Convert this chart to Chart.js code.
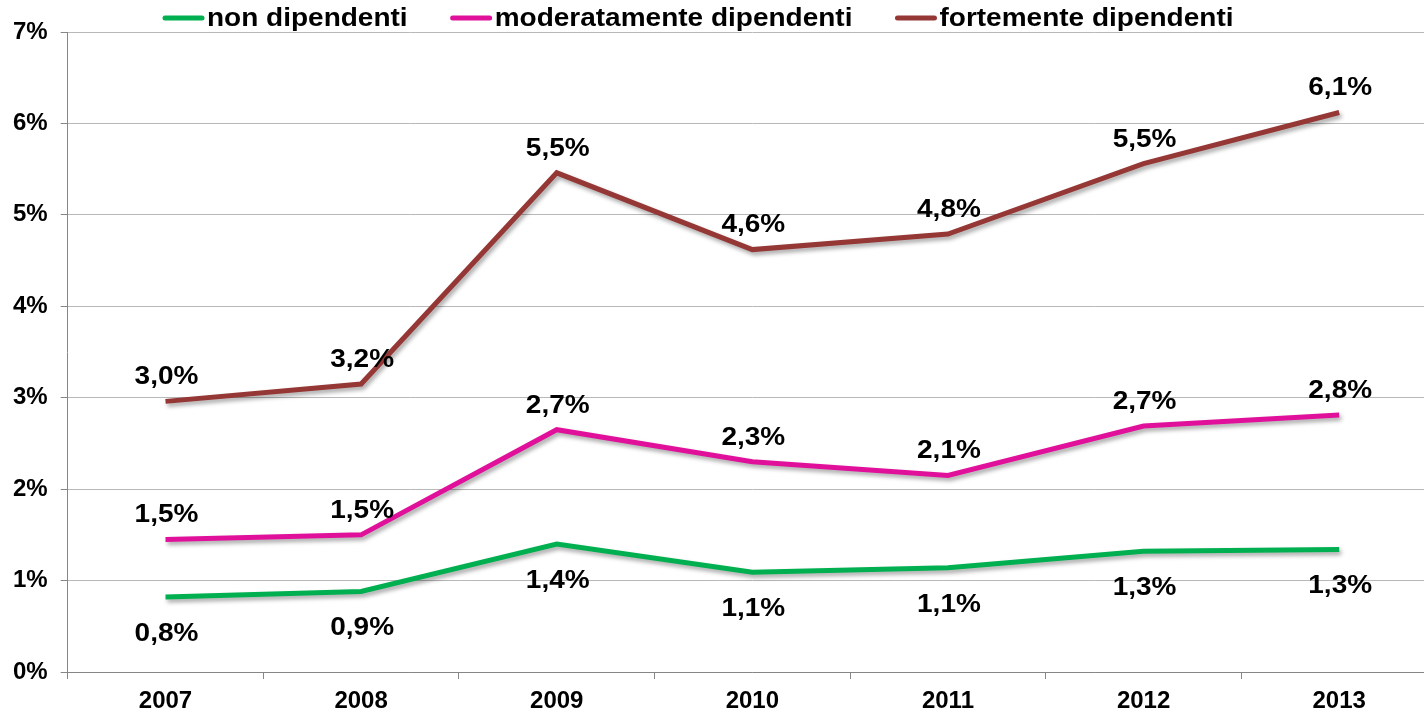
<!DOCTYPE html>
<html>
<head>
<meta charset="utf-8">
<script src="https://cdn.jsdelivr.net/npm/chart.js@4/dist/chart.umd.min.js"></script>
<style>
  html, body { margin: 0; padding: 0; background: #fff; overflow: hidden; }
  #wrap { width: 1440px; height: 725px; }
</style>
</head>
<body>
<div id="wrap"><canvas id="chart"></canvas></div>
<script>
/* ================= DATA ================= */
const years = ["2007", "2008", "2009", "2010", "2011", "2012", "2013"];

const nonDip = [0.82, 0.88, 1.40, 1.09, 1.14, 1.32, 1.34];
const modDip = [1.45, 1.50, 2.65, 2.30, 2.15, 2.69, 2.81];
const forteDip = [2.96, 3.15, 5.46, 4.62, 4.79, 5.56, 6.12];

const nonLabels = ["0,8%", "0,9%", "1,4%", "1,1%", "1,1%", "1,3%", "1,3%"];
const modLabels = ["1,5%", "1,5%", "2,7%", "2,3%", "2,1%", "2,7%", "2,8%"];
const forteLabels = ["3,0%", "3,2%", "5,5%", "4,6%", "4,8%", "5,5%", "6,1%"];

const seriesNames = ["non dipendenti", "moderatamente dipendenti", "fortemente dipendenti"];
const yTicks = [0, 1, 2, 3, 4, 5, 6, 7];

/* ================= STYLE ================= */
const FONT = "'Liberation Sans', Arial, sans-serif";
const colors = ["#00B050", "#E0109B", "#953735"];
const STRETCH = 1.12; // original text is a bit wider than plain Arial

/* ================= PLUGINS ================= */
// soft drop shadow under each line
const shadowPlugin = {
  id: "shadow",
  beforeDatasetDraw(chart) {
    const c = chart.ctx;
    c.save();
    c.shadowColor = "rgba(0,0,0,0.35)";
    c.shadowBlur = 4;
    c.shadowOffsetX = 2;
    c.shadowOffsetY = 3;
  },
  afterDatasetDraw(chart) {
    chart.ctx.restore();
  }
};

function wideText(c, txt, x, y) {
  c.save();
  c.translate(x, y);
  c.scale(STRETCH, 1);
  c.fillText(txt, 0, 0);
  c.restore();
}

// value labels: above for the upper two series, below for the green one
const labelPlugin = {
  id: "valueLabels",
  afterDatasetsDraw(chart) {
    const c = chart.ctx;
    c.save();
    c.font = "bold 25px " + FONT;
    c.fillStyle = "#000";
    c.textAlign = "center";
    c.textBaseline = "middle";
    chart.data.datasets.forEach((ds, i) => {
      const meta = chart.getDatasetMeta(i);
      meta.data.forEach((pt, j) => {
        const below = ds.labelPos === "below";
        wideText(c, ds.valueLabels[j], pt.x + 1, below ? pt.y + 37 : pt.y - 24);
      });
    });
    c.restore();
  }
};

// legend drawn as line sample + text, no gap, like the original
const legendPlugin = {
  id: "lineLegend",
  afterDraw(chart) {
    const c = chart.ctx;
    c.save();
    c.font = "bold 25px " + FONT;
    c.textBaseline = "middle";
    c.lineCap = "round";
    let x = 165;
    const y = 18;
    chart.data.datasets.forEach((ds) => {
      c.strokeStyle = ds.borderColor;
      c.lineWidth = 5;
      c.beginPath();
      c.moveTo(x, y);
      c.lineTo(x + 37, y);
      c.stroke();
      x += 42;
      c.fillStyle = "#000";
      wideText(c, ds.label, x, y + 1);
      x += c.measureText(ds.label).width * STRETCH + 45;
    });
    c.restore();
  }
};

/* ================= CHART ================= */
const ctx = document.getElementById("chart").getContext("2d");

const datasets = [
  { label: seriesNames[0], data: nonDip, valueLabels: nonLabels, labelPos: "below" },
  { label: seriesNames[1], data: modDip, valueLabels: modLabels, labelPos: "above" },
  { label: seriesNames[2], data: forteDip, valueLabels: forteLabels, labelPos: "above" }
].map((d, i) => ({
  ...d,
  borderColor: colors[i],
  backgroundColor: colors[i],
  borderWidth: 5,
  pointRadius: 0,
  tension: 0,
  fill: false
}));

new Chart(ctx, {
  type: "line",
  data: { labels: years, datasets },
  options: {
    responsive: true,
    maintainAspectRatio: false,
    animation: false,
    layout: { padding: { top: 32, left: 0, right: 3, bottom: 2 } },
    plugins: {
      legend: { display: false },
      tooltip: { enabled: false }
    },
    scales: {
      x: {
        offset: true,
        grid: {
          offset: true,
          drawOnChartArea: false,
          color: "#868686",
          tickLength: 7
        },
        border: { color: "#868686", width: 1 },
        ticks: {
          color: "#000",
          padding: 10,
          font: { family: FONT, size: 24, weight: "bold", lineHeight: 1.0 }
        }
      },
      y: {
        min: yTicks[0],
        max: yTicks[yTicks.length - 1],
        afterBuildTicks(axis) {
          axis.ticks = yTicks.map(v => ({ value: v }));
        },
        grid: { color: "#B8B8B8", tickLength: 7, tickColor: "#868686" },
        border: { color: "#868686", width: 1 },
        ticks: {
          color: "#000",
          padding: 13,
          callback: v => v + "%",
          font: { family: FONT, size: 24, weight: "bold" }
        }
      }
    }
  },
  plugins: [shadowPlugin, labelPlugin, legendPlugin]
});
</script>
</body>
</html>
